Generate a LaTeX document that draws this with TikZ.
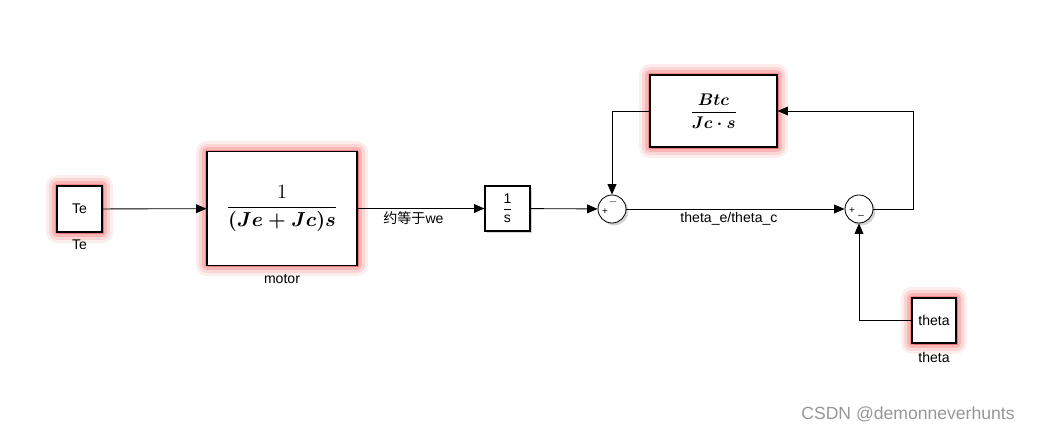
\documentclass[tikz,border=0pt]{standalone}
\usepackage{amsmath}
\usepackage{fontspec}
\setmainfont{Liberation Sans}
\newfontfamily\cjk{Noto Sans CJK SC}
\usetikzlibrary{arrows.meta,shadows}
\definecolor{glowred}{RGB}{235,40,40}
\definecolor{ink}{RGB}{0,0,0}
\definecolor{wmgray}{RGB}{150,150,150}
\tikzset{
  >={Triangle[length=2.6mm,width=2.2mm]},
  flow/.style={->,line width=0.6pt,draw=ink},
  glow/.style={
    preaction={draw=glowred,opacity=0.08,line width=5.4mm,line join=round},
    preaction={draw=glowred,opacity=0.12,line width=3.8mm,line join=round},
    preaction={draw=glowred,opacity=0.18,line width=2.4mm,line join=round},
    preaction={draw=glowred,opacity=0.30,line width=1.1mm,line join=round}},
  blk/.style={draw=ink,fill=white,line width=0.8pt,align=center,inner sep=1pt,
    font=\fontsize{10}{12}\selectfont,
    drop shadow={shadow xshift=0.5mm,shadow yshift=-0.5mm,opacity=0.35}},
  sumop/.style={circle,draw=ink,fill=white,line width=0.6pt,minimum size=7mm,inner sep=0pt,
    drop shadow={shadow xshift=0.6mm,shadow yshift=-0.6mm,opacity=0.35}},
  sgn/.style={font=\fontsize{7}{7}\selectfont,inner sep=0pt},
  tag/.style={font=\fontsize{10}{12}\selectfont,inner sep=1pt},
}

\begin{document}
\begin{tikzpicture}[x=0.025cm,y=-0.025cm]
  \useasboundingbox (0,0) rectangle (1039,432);
  % blocks
  \node[blk,glow,minimum width=11.25mm,minimum height=11.5mm,
    label={[tag,label distance=1.3mm]below:Te}] (te) at (79.5,209) {Te};
  \node[blk,glow,minimum width=37.5mm,minimum height=28.3mm,
    label={[tag,label distance=1.8mm]below:motor}] (motor) at (282,208.5)
    {\Large$\dfrac{1}{\boldsymbol{(Je+Jc)s}}$};
  \node[blk,minimum width=11.25mm,minimum height=11.25mm] (integ) at (507.5,208.5)
    {$\dfrac{\text{1}}{\text{s}}$};
  \node[sumop] (s1) at (612,209) {};
  \node[sumop] (s2) at (859,209) {};
  \node[blk,glow,minimum width=31.75mm,minimum height=18mm] (btc) at (713.5,111)
    {\large$\dfrac{\boldsymbol{Btc}}{\boldsymbol{Jc\cdot s}}$};
  \node[blk,glow,minimum width=11mm,minimum height=11.25mm,
    label={[tag,label distance=1.8mm]below:theta}] (theta) at (934,320.5) {theta};
  % signs
  \node[sgn] (s1p) at (605,212) {+};
  \node[sgn] (s1m) at (613,202) {$-$};
  \node[sgn] (s2p) at (852,211) {+};
  \node[sgn] (s2m) at (861,215) {\_};
  % signals
  \draw[flow] (te) -- (motor);
  \draw[flow] (motor) -- node[tag,below=1pt,pos=0.44] {{\cjk 约等于}we} (integ);
  \draw[flow] (integ) -- (s1);
  \draw[flow] (s1) -- node[tag,below=1pt,pos=0.47] {theta\_e/theta\_c} (s2);
  \draw[flow] (s2.east) -- ++(40,0) |- (btc.east);
  \draw[flow] (btc.west) -| (s1.north);
  \draw[flow] (theta.west) -| (s2.south);
  \node[font=\fontsize{12.5}{14}\selectfont,text=wmgray] (wm) at (908,414) {CSDN @demonneverhunts};
\end{tikzpicture}
\end{document}
